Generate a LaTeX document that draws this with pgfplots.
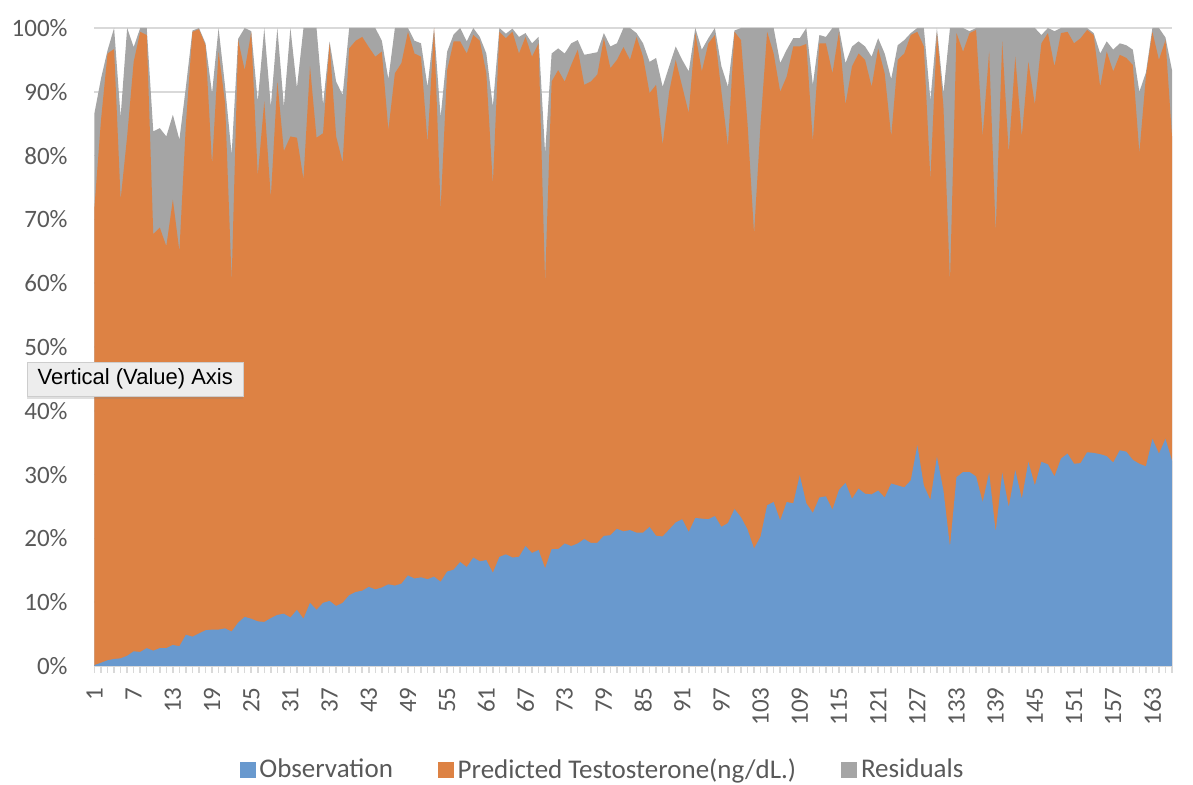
\documentclass[border=0pt]{standalone}
\usepackage{fontspec}
\setmainfont{Carlito}
\newfontfamily\tipfont{Liberation Sans}
\usepackage{pgfplots}
\pgfplotsset{compat=1.18}
\usepackage{pgfplotstable}
\usetikzlibrary{shadows}

\definecolor{obsblue}{RGB}{105,153,206}
\definecolor{predorange}{RGB}{221,130,68}
\definecolor{resgray}{RGB}{165,165,165}
\definecolor{gridgray}{RGB}{217,217,217}
\definecolor{txtgray}{RGB}{89,89,89}

% Stacked shares in percent: top of Observation, top of Observation+Predicted,
% top of all three series (Residuals included).
\pgfplotstableread{
i obs predtop restop
1 0.15 72 86.7
2 0.5 85.6 92.1
3 0.9 96 96.5
4 1.1 96.7 100
5 1.2 73.1 86.1
6 1.6 83 100
7 2.3 94.7 97
8 2.2 99.4 100
9 2.8 98.9 100
10 2.4 67.7 83.8
11 2.8 68.7 84.3
12 2.8 65.8 83
13 3.3 73.1 86.4
14 3.1 65 82.5
15 4.9 85 90.8
16 4.6 99.4 99.6
17 5.1 99.8 100
18 5.6 97.3 97.6
19 5.7 78.6 89.8
20 5.7 96.3 100
21 5.9 88.2 90.8
22 5.4 60.4 80.2
23 6.8 98.1 98.3
24 7.7 93.4 100
25 7.4 99.3 99.5
26 7 76.8 88.5
27 6.9 88.5 100
28 7.5 73.4 87.7
29 8 91.6 100
30 8.2 80.7 87.7
31 7.6 83 100
32 8.8 82.8 90.6
33 7.4 76.3 100
34 9.9 94 100
35 8.8 82.8 100
36 9.9 83.5 88
37 10.2 97.6 97.9
38 9.4 83 91.6
39 9.9 78.9 89.5
40 11.1 96.8 100
41 11.6 98 100
42 11.8 98.6 100
43 12.4 97 100
44 12 95.5 100
45 12.3 96.3 98
46 12.8 84 92
47 12.6 92.9 100
48 12.9 94.5 100
49 14.2 99.4 100
50 13.7 96 98
51 13.9 95.5 97.6
52 13.6 82 90.8
53 14 100 100
54 13.2 71.6 86.1
55 14.8 93.4 96.3
56 15.1 97.9 99
57 16.3 97.9 100
58 15.5 96 97.9
59 17 98.9 100
60 16.4 98 98.6
61 16.6 92.9 96
62 14.6 75.5 87.7
63 17.1 99.4 100
64 17.5 98.4 99.1
65 17 99.4 99.9
66 17.1 96 98.6
67 18.8 98.6 99.2
68 17.7 95.5 97.6
69 18.2 97.6 98.6
70 15.3 60.1 80.4
71 18.3 91.6 96
72 18.3 93.4 96.8
73 19.2 91.6 96
74 18.8 94.2 97.6
75 19.2 96.6 98.1
76 19.9 91.1 95.8
77 19.3 91.6 96
78 19.3 92.7 96.2
79 20.4 98.4 99.2
80 20.5 93.7 97.1
81 21.5 95 97.6
82 21.1 97 100
83 21.3 95 100
84 20.9 98.6 99.2
85 20.9 95.5 97.6
86 21.8 89.8 94.7
87 20.4 91.1 95.3
88 20.3 81.7 90.8
89 21.4 90 94
90 22.5 95 97.1
91 23 90.8 95
92 21 86.7 93.2
93 23.2 99.2 100
94 23.1 93.2 96.6
95 23 97.6 98.4
96 23.5 98.9 100
97 21.8 90 94
98 22.4 81.5 90.8
99 24.6 99.4 99.6
100 23.3 98.1 100
101 21.4 85 100
102 18.4 67.7 100
103 20.3 85 100
104 25.2 99.4 100
105 25.7 96 100
106 22.8 90 94.5
107 25.7 92.4 96.6
108 25.5 97.1 98.4
109 29.9 97.1 98.4
110 25.5 97.5 100
111 24 82.2 91.1
112 26.4 97.6 98.9
113 26.6 97.6 98.6
114 24.5 92.9 100
115 27.6 99.4 100
116 28.7 88 94.5
117 26.2 94 97.1
118 27.8 96 97.9
119 27 95 97.1
120 26.9 90.8 95.5
121 27.5 96.8 98.4
122 26.4 92.9 96
123 28.6 83 92
124 28.3 95 97.3
125 28 96 98.1
126 29.1 98.9 99.2
127 34.6 99.4 100
128 28.3 97.1 100
129 26 76.3 88.7
130 32.8 99.2 100
131 27.5 87.7 89.8
132 18.7 60.1 100
133 29.6 99.2 100
134 30.4 96.3 100
135 30.4 99.2 99.5
136 29.7 99.7 100
137 25.7 83 100
138 30.3 96.3 100
139 21 67.9 100
140 30.3 97.9 100
141 24.9 80.4 100
142 30.7 95.5 100
143 26.2 83 100
144 32 94.7 100
145 28.3 88 100
146 32 97.6 98.9
147 31.6 99.2 100
148 29.7 94 99.5
149 32.5 99.2 100
150 33.3 99.4 100
151 31.7 97.6 100
152 31.8 98.4 100
153 33.5 99.7 100
154 33.4 98.9 99.2
155 33.2 90.8 96
156 32.9 96.3 97.9
157 31.9 93.2 96.6
158 33.8 95.8 97.6
159 33.6 95.3 97.3
160 32.3 94.2 96.6
161 31.7 80.4 90
162 31.3 92.4 93
163 35.6 99.4 100
164 33.3 95 100
165 35.6 98.1 98.5
166 32.2 83 93.4
}\shares

\begin{document}
\begin{tikzpicture}[x=1pt,y=1pt]
\useasboundingbox (0pt,0pt) rectangle (596.5pt,392.5pt);
\begin{axis}[
  at={(47.25pt,59.5pt)}, anchor=south west,
  scale only axis, width=538.75pt, height=319pt,
  xmin=1, xmax=166, ymin=0, ymax=100,
  axis x line*=bottom, axis y line*=left,
  x axis line style={draw=gridgray, line width=0.75pt, -},
  y axis line style={draw=none},
  xtick={1,7,...,163},
  minor xtick={1,...,166},
  tick align=outside,
  major tick length=3.5pt, minor tick length=3.5pt,
  x tick style={draw=gridgray, line width=0.75pt},
  ytick={0,10,...,100},
  yticklabels={0\%,10\%,20\%,30\%,40\%,50\%,60\%,70\%,80\%,90\%,100\%},
  y tick style={draw=none},
  ymajorgrids, grid style={draw=gridgray, line width=0.75pt},
  /pgf/number format/assume math mode=true,
  tick label style={text=txtgray, font=\fontsize{12.5}{14}\selectfont},
  yticklabel style={anchor=east, inner sep=0pt, xshift=-9.75pt},
  xticklabel shift=7pt,
  xticklabel style={rotate=90, anchor=east, inner sep=0pt},
  legend style={at={(0.4724,-0.163)}, anchor=center, draw=none, fill=none,
    font=\fontsize{13.5}{15}\selectfont, text=txtgray,
    /tikz/every even column/.append style={column sep=20.5pt}},
  legend columns=-1,
  legend cell align=left,
]
\addplot[draw=none, fill=resgray, forget plot] table[x=i, y=restop] {\shares} \closedcycle;
\addplot[draw=none, fill=predorange, forget plot] table[x=i, y=predtop] {\shares} \closedcycle;
\addplot[draw=none, fill=obsblue, forget plot] table[x=i, y=obs] {\shares} \closedcycle;

\addlegendimage{legend image code/.code={\fill[obsblue] (0pt,-3.75pt) rectangle (7.5pt,3.75pt);}}
\addlegendentry{Observation}
\addlegendimage{legend image code/.code={\fill[predorange] (0pt,-3.75pt) rectangle (7.5pt,3.75pt);}}
\addlegendentry{Predicted Testosterone(ng/dL.)}
\addlegendimage{legend image code/.code={\fill[resgray] (0pt,-3.75pt) rectangle (7.5pt,3.75pt);}}
\addlegendentry{Residuals}
\end{axis}

% hover label over the value axis
\node[anchor=north west, inner sep=0pt, minimum width=108pt, minimum height=17pt,
  fill={rgb,255:red,237;green,237;blue,237},
  draw={rgb,255:red,205;green,205;blue,205}, line width=0.3pt,
  drop shadow={opacity=0.25, shadow xshift=0pt, shadow yshift=-1.2pt},
  text=black, font=\tipfont\fontsize{11}{12}\selectfont]
  at (13.5pt,211.5pt) {Vertical (Value) Axis};
\end{tikzpicture}
\end{document}
